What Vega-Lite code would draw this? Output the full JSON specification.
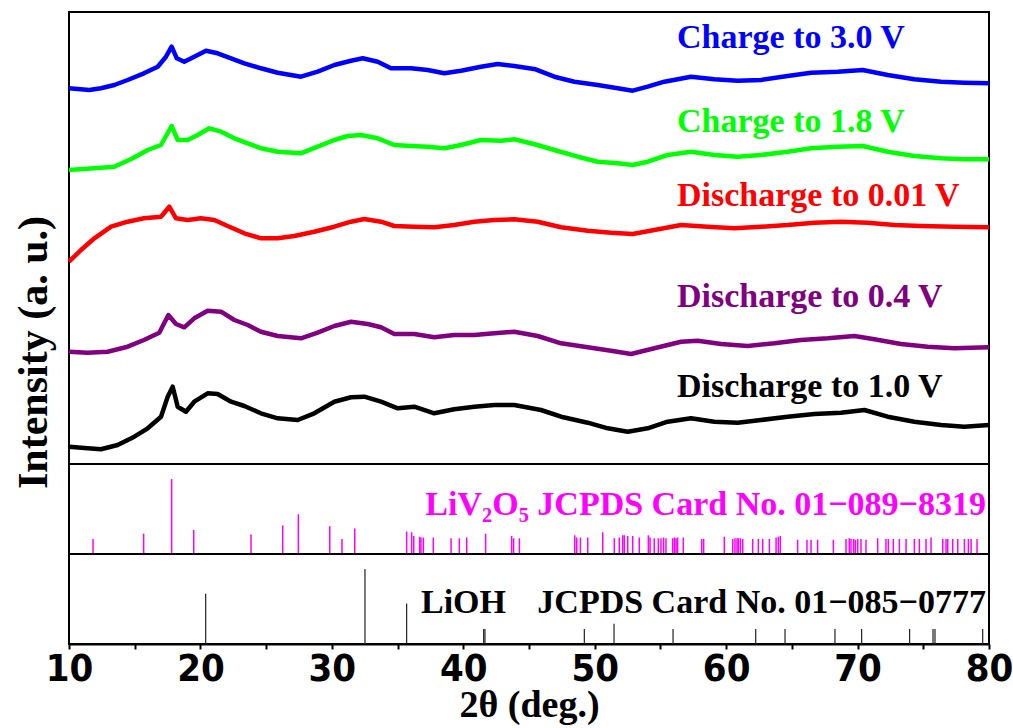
{
  "$schema": "https://vega.github.io/schema/vega-lite/v6.json",
  "autosize": {"type": "pad"},
  "padding": {"left": 11, "top": 11, "right": 24, "bottom": 5},
  "background": "white",
  "spacing": 0,
  "bounds": "flush",
  "config": {
    "view": {"stroke": "black", "strokeWidth": 2},
    "axis": {"grid": false},
    "font": "Liberation Serif"
  },
  "datasets": {
    "curves": [
      {"s": "3.0", "t": 10, "v": 375.7}, {"s": "3.0", "t": 11.55, "v": 374}, {"s": "3.0", "t": 12.43, "v": 375.7}, {"s": "3.0", "t": 13.45, "v": 379}, {"s": "3.0", "t": 14.46, "v": 384}, {"s": "3.0", "t": 15.7, "v": 390.7}, {"s": "3.0", "t": 16.75, "v": 397.3}, {"s": "3.0", "t": 17.38, "v": 407.3}, {"s": "3.0", "t": 17.81, "v": 417.3}, {"s": "3.0", "t": 18.2, "v": 405.7}, {"s": "3.0", "t": 18.77, "v": 402.3}, {"s": "3.0", "t": 19.53, "v": 407.3}, {"s": "3.0", "t": 20.42, "v": 413.3}, {"s": "3.0", "t": 21.31, "v": 410.7}, {"s": "3.0", "t": 22.33, "v": 405.7}, {"s": "3.0", "t": 23.34, "v": 400.7}, {"s": "3.0", "t": 24.6, "v": 395.7}, {"s": "3.0", "t": 25.88, "v": 391.3}, {"s": "3.0", "t": 27.65, "v": 387.3}, {"s": "3.0", "t": 28.92, "v": 392.3}, {"s": "3.0", "t": 30.19, "v": 399}, {"s": "3.0", "t": 31.46, "v": 403.3}, {"s": "3.0", "t": 32.35, "v": 405.7}, {"s": "3.0", "t": 33.49, "v": 402.3}, {"s": "3.0", "t": 34.5, "v": 395.7}, {"s": "3.0", "t": 36.02, "v": 395.7}, {"s": "3.0", "t": 37.29, "v": 394}, {"s": "3.0", "t": 38.56, "v": 390.7}, {"s": "3.0", "t": 39.83, "v": 393.3}, {"s": "3.0", "t": 41.35, "v": 397.3}, {"s": "3.0", "t": 42.62, "v": 400}, {"s": "3.0", "t": 43.88, "v": 398}, {"s": "3.0", "t": 45.5, "v": 394.7}, {"s": "3.0", "t": 46.93, "v": 387.3}, {"s": "3.0", "t": 48.45, "v": 382.3}, {"s": "3.0", "t": 50.23, "v": 379}, {"s": "3.0", "t": 51.75, "v": 375.7}, {"s": "3.0", "t": 52.89, "v": 373.3}, {"s": "3.0", "t": 54.03, "v": 377.3}, {"s": "3.0", "t": 55.3, "v": 382.3}, {"s": "3.0", "t": 57.33, "v": 387.3}, {"s": "3.0", "t": 59.1, "v": 384.7}, {"s": "3.0", "t": 60.88, "v": 383.3}, {"s": "3.0", "t": 62.65, "v": 384}, {"s": "3.0", "t": 64.68, "v": 388}, {"s": "3.0", "t": 66.46, "v": 391.3}, {"s": "3.0", "t": 68.49, "v": 392.3}, {"s": "3.0", "t": 70.39, "v": 394}, {"s": "3.0", "t": 72.29, "v": 389}, {"s": "3.0", "t": 74.32, "v": 384.7}, {"s": "3.0", "t": 76.35, "v": 382.3}, {"s": "3.0", "t": 78.12, "v": 381.3}, {"s": "3.0", "t": 80, "v": 380.7},

      {"s": "1.8", "t": 10, "v": 294}, {"s": "1.8", "t": 11.93, "v": 295.7}, {"s": "1.8", "t": 13.45, "v": 297.3}, {"s": "1.8", "t": 14.85, "v": 305.7}, {"s": "1.8", "t": 15.99, "v": 314}, {"s": "1.8", "t": 17, "v": 319}, {"s": "1.8", "t": 17.81, "v": 338}, {"s": "1.8", "t": 18.27, "v": 324}, {"s": "1.8", "t": 19.03, "v": 324}, {"s": "1.8", "t": 19.79, "v": 329}, {"s": "1.8", "t": 20.68, "v": 335.7}, {"s": "1.8", "t": 21.57, "v": 332.3}, {"s": "1.8", "t": 22.58, "v": 325.7}, {"s": "1.8", "t": 23.6, "v": 320.7}, {"s": "1.8", "t": 24.6, "v": 315.7}, {"s": "1.8", "t": 25.88, "v": 312.3}, {"s": "1.8", "t": 27.65, "v": 310.7}, {"s": "1.8", "t": 28.92, "v": 317.3}, {"s": "1.8", "t": 30.19, "v": 324}, {"s": "1.8", "t": 31.2, "v": 328}, {"s": "1.8", "t": 32.22, "v": 329}, {"s": "1.8", "t": 33.49, "v": 325.7}, {"s": "1.8", "t": 34.75, "v": 319}, {"s": "1.8", "t": 36.02, "v": 318}, {"s": "1.8", "t": 37.29, "v": 317.3}, {"s": "1.8", "t": 38.56, "v": 315.7}, {"s": "1.8", "t": 39.83, "v": 319}, {"s": "1.8", "t": 41.35, "v": 324}, {"s": "1.8", "t": 42.87, "v": 323.3}, {"s": "1.8", "t": 43.88, "v": 324.7}, {"s": "1.8", "t": 45.5, "v": 319.5}, {"s": "1.8", "t": 46.93, "v": 314}, {"s": "1.8", "t": 48.71, "v": 307.3}, {"s": "1.8", "t": 50.23, "v": 302.3}, {"s": "1.8", "t": 51.75, "v": 300.7}, {"s": "1.8", "t": 52.89, "v": 299}, {"s": "1.8", "t": 54.03, "v": 302.3}, {"s": "1.8", "t": 55.55, "v": 309}, {"s": "1.8", "t": 57.33, "v": 312.3}, {"s": "1.8", "t": 59.1, "v": 309}, {"s": "1.8", "t": 60.88, "v": 307.3}, {"s": "1.8", "t": 62.65, "v": 309}, {"s": "1.8", "t": 64.68, "v": 312.3}, {"s": "1.8", "t": 66.46, "v": 315.7}, {"s": "1.8", "t": 68.49, "v": 317.3}, {"s": "1.8", "t": 70.39, "v": 318}, {"s": "1.8", "t": 72.29, "v": 312.3}, {"s": "1.8", "t": 74.32, "v": 308}, {"s": "1.8", "t": 76.35, "v": 305.7}, {"s": "1.8", "t": 78.12, "v": 304.7}, {"s": "1.8", "t": 80, "v": 304.7},

      {"s": "0.01", "t": 10, "v": 202.3}, {"s": "0.01", "t": 10.91, "v": 214}, {"s": "0.01", "t": 11.93, "v": 225.7}, {"s": "0.01", "t": 13.2, "v": 237.3}, {"s": "0.01", "t": 14.46, "v": 242.3}, {"s": "0.01", "t": 15.7, "v": 245.7}, {"s": "0.01", "t": 17, "v": 247.3}, {"s": "0.01", "t": 17.63, "v": 257.3}, {"s": "0.01", "t": 18.14, "v": 245.7}, {"s": "0.01", "t": 19.03, "v": 244}, {"s": "0.01", "t": 20.04, "v": 245.7}, {"s": "0.01", "t": 21.06, "v": 244}, {"s": "0.01", "t": 22.07, "v": 238}, {"s": "0.01", "t": 23.34, "v": 230.7}, {"s": "0.01", "t": 24.6, "v": 225.7}, {"s": "0.01", "t": 25.88, "v": 225.7}, {"s": "0.01", "t": 27.14, "v": 228}, {"s": "0.01", "t": 28.66, "v": 232.3}, {"s": "0.01", "t": 30.19, "v": 237.3}, {"s": "0.01", "t": 31.46, "v": 242.3}, {"s": "0.01", "t": 32.47, "v": 245}, {"s": "0.01", "t": 33.74, "v": 242.3}, {"s": "0.01", "t": 34.75, "v": 238}, {"s": "0.01", "t": 36.27, "v": 237.3}, {"s": "0.01", "t": 37.79, "v": 236.7}, {"s": "0.01", "t": 39.31, "v": 239}, {"s": "0.01", "t": 40.84, "v": 242.3}, {"s": "0.01", "t": 42.36, "v": 244}, {"s": "0.01", "t": 43.88, "v": 244.7}, {"s": "0.01", "t": 45.66, "v": 242.3}, {"s": "0.01", "t": 47.44, "v": 236.7}, {"s": "0.01", "t": 49.47, "v": 233.3}, {"s": "0.01", "t": 51.24, "v": 231.3}, {"s": "0.01", "t": 52.89, "v": 230}, {"s": "0.01", "t": 54.54, "v": 234}, {"s": "0.01", "t": 56.57, "v": 239}, {"s": "0.01", "t": 58.6, "v": 237.3}, {"s": "0.01", "t": 60.62, "v": 235.7}, {"s": "0.01", "t": 62.65, "v": 237.3}, {"s": "0.01", "t": 64.68, "v": 239}, {"s": "0.01", "t": 66.71, "v": 241.3}, {"s": "0.01", "t": 68.74, "v": 242.3}, {"s": "0.01", "t": 70.77, "v": 241.3}, {"s": "0.01", "t": 72.8, "v": 239}, {"s": "0.01", "t": 74.83, "v": 238}, {"s": "0.01", "t": 77.36, "v": 237.3}, {"s": "0.01", "t": 80, "v": 236.7},

      {"s": "0.4", "t": 10, "v": 112.3}, {"s": "0.4", "t": 11.42, "v": 111.3}, {"s": "0.4", "t": 12.94, "v": 112.3}, {"s": "0.4", "t": 14.46, "v": 117.3}, {"s": "0.4", "t": 15.7, "v": 124}, {"s": "0.4", "t": 16.87, "v": 131.3}, {"s": "0.4", "t": 17.56, "v": 149}, {"s": "0.4", "t": 18.14, "v": 140}, {"s": "0.4", "t": 18.77, "v": 136.7}, {"s": "0.4", "t": 19.53, "v": 145.7}, {"s": "0.4", "t": 20.55, "v": 153.3}, {"s": "0.4", "t": 21.57, "v": 152.3}, {"s": "0.4", "t": 22.58, "v": 144}, {"s": "0.4", "t": 23.6, "v": 139}, {"s": "0.4", "t": 24.6, "v": 132.3}, {"s": "0.4", "t": 25.88, "v": 128}, {"s": "0.4", "t": 27.65, "v": 125.7}, {"s": "0.4", "t": 28.92, "v": 131.3}, {"s": "0.4", "t": 30.19, "v": 138}, {"s": "0.4", "t": 31.46, "v": 142.3}, {"s": "0.4", "t": 32.73, "v": 140}, {"s": "0.4", "t": 33.74, "v": 136.7}, {"s": "0.4", "t": 34.75, "v": 130}, {"s": "0.4", "t": 36.27, "v": 130}, {"s": "0.4", "t": 37.79, "v": 126.7}, {"s": "0.4", "t": 39.31, "v": 129}, {"s": "0.4", "t": 40.84, "v": 129}, {"s": "0.4", "t": 42.36, "v": 130.7}, {"s": "0.4", "t": 43.88, "v": 132.3}, {"s": "0.4", "t": 45.66, "v": 128}, {"s": "0.4", "t": 47.44, "v": 120.7}, {"s": "0.4", "t": 49.47, "v": 116.7}, {"s": "0.4", "t": 51.24, "v": 113.3}, {"s": "0.4", "t": 52.77, "v": 110}, {"s": "0.4", "t": 54.54, "v": 115.7}, {"s": "0.4", "t": 56.57, "v": 122.3}, {"s": "0.4", "t": 57.84, "v": 123.3}, {"s": "0.4", "t": 59.62, "v": 120}, {"s": "0.4", "t": 61.64, "v": 118}, {"s": "0.4", "t": 63.67, "v": 120.7}, {"s": "0.4", "t": 65.7, "v": 124}, {"s": "0.4", "t": 67.73, "v": 125.7}, {"s": "0.4", "t": 69.76, "v": 128}, {"s": "0.4", "t": 71.28, "v": 124.7}, {"s": "0.4", "t": 73.3, "v": 120}, {"s": "0.4", "t": 75.33, "v": 117.3}, {"s": "0.4", "t": 77.36, "v": 115.7}, {"s": "0.4", "t": 80, "v": 116.7},

      {"s": "1.0", "t": 10, "v": 17.3}, {"s": "1.0", "t": 11.42, "v": 15.7}, {"s": "1.0", "t": 12.43, "v": 14.7}, {"s": "1.0", "t": 13.7, "v": 19}, {"s": "1.0", "t": 14.97, "v": 27.3}, {"s": "1.0", "t": 15.99, "v": 35.7}, {"s": "1.0", "t": 17, "v": 47.3}, {"s": "1.0", "t": 17.51, "v": 67.3}, {"s": "1.0", "t": 17.89, "v": 77.3}, {"s": "1.0", "t": 18.27, "v": 57.3}, {"s": "1.0", "t": 18.9, "v": 52.3}, {"s": "1.0", "t": 19.53, "v": 62.3}, {"s": "1.0", "t": 20.55, "v": 70.7}, {"s": "1.0", "t": 21.31, "v": 70}, {"s": "1.0", "t": 22.33, "v": 62.3}, {"s": "1.0", "t": 23.34, "v": 58}, {"s": "1.0", "t": 24.6, "v": 50.7}, {"s": "1.0", "t": 25.88, "v": 45.7}, {"s": "1.0", "t": 27.4, "v": 44}, {"s": "1.0", "t": 28.66, "v": 50.7}, {"s": "1.0", "t": 30.19, "v": 62.3}, {"s": "1.0", "t": 31.46, "v": 66.7}, {"s": "1.0", "t": 32.47, "v": 67.3}, {"s": "1.0", "t": 33.74, "v": 62.3}, {"s": "1.0", "t": 35.01, "v": 55.7}, {"s": "1.0", "t": 36.27, "v": 57.3}, {"s": "1.0", "t": 37.79, "v": 50.7}, {"s": "1.0", "t": 39.31, "v": 54.7}, {"s": "1.0", "t": 40.84, "v": 57.3}, {"s": "1.0", "t": 42.36, "v": 59}, {"s": "1.0", "t": 43.88, "v": 59}, {"s": "1.0", "t": 45.91, "v": 54}, {"s": "1.0", "t": 47.44, "v": 47.3}, {"s": "1.0", "t": 49.47, "v": 41.3}, {"s": "1.0", "t": 50.99, "v": 35.7}, {"s": "1.0", "t": 52.51, "v": 32.3}, {"s": "1.0", "t": 54.03, "v": 35.7}, {"s": "1.0", "t": 55.55, "v": 42.3}, {"s": "1.0", "t": 57.33, "v": 45.7}, {"s": "1.0", "t": 59.1, "v": 42.3}, {"s": "1.0", "t": 60.88, "v": 41.3}, {"s": "1.0", "t": 62.65, "v": 44}, {"s": "1.0", "t": 64.68, "v": 47.3}, {"s": "1.0", "t": 66.71, "v": 50}, {"s": "1.0", "t": 68.74, "v": 51.3}, {"s": "1.0", "t": 70.52, "v": 54}, {"s": "1.0", "t": 72.29, "v": 47.3}, {"s": "1.0", "t": 74.32, "v": 42.3}, {"s": "1.0", "t": 76.35, "v": 39}, {"s": "1.0", "t": 78.12, "v": 37.3}, {"s": "1.0", "t": 80, "v": 39}
    ],
    "labels": [
      {"s": "3.0", "t": 56.26, "v": 426, "label": "Charge to 3.0 V"},
      {"s": "1.8", "t": 56.26, "v": 342, "label": "Charge to 1.8 V"},
      {"s": "0.01", "t": 56.26, "v": 268, "label": "Discharge to 0.01 V"},
      {"s": "0.4", "t": 56.26, "v": 167, "label": "Discharge to 0.4 V"},
      {"s": "1.0", "t": 56.26, "v": 77, "label": "Discharge to 1.0 V"}
    ],
    "liv": [
      {"t": 11.83, "i": 20}, {"t": 15.68, "i": 27}, {"t": 17.81, "i": 100}, {"t": 19.49, "i": 32}, {"t": 23.85, "i": 26}, {"t": 26.26, "i": 38}, {"t": 27.45, "i": 53}, {"t": 29.84, "i": 37}, {"t": 30.77, "i": 20}, {"t": 31.74, "i": 34},
      {"t": 35.69, "i": 30}, {"t": 36.07, "i": 29}, {"t": 36.23, "i": 24}, {"t": 36.68, "i": 23}, {"t": 36.78, "i": 22}, {"t": 36.96, "i": 22}, {"t": 37.72, "i": 22}, {"t": 39.07, "i": 21}, {"t": 39.7, "i": 21}, {"t": 40.26, "i": 22}, {"t": 41.7, "i": 27}, {"t": 43.68, "i": 24}, {"t": 43.83, "i": 21}, {"t": 44.27, "i": 21}, {"t": 48.48, "i": 25}, {"t": 48.63, "i": 22}, {"t": 48.91, "i": 22}, {"t": 49.47, "i": 22}, {"t": 50.61, "i": 29}, {"t": 51.49, "i": 21}, {"t": 51.87, "i": 22}, {"t": 52.13, "i": 25}, {"t": 52.25, "i": 25}, {"t": 52.51, "i": 24}, {"t": 52.89, "i": 24}, {"t": 53.39, "i": 22}, {"t": 54.08, "i": 25}, {"t": 54.21, "i": 22}, {"t": 54.53, "i": 21}, {"t": 54.84, "i": 21}, {"t": 55.04, "i": 21}, {"t": 55.24, "i": 22}, {"t": 55.42, "i": 21}, {"t": 55.93, "i": 21}, {"t": 56.06, "i": 22}, {"t": 56.19, "i": 21}, {"t": 56.31, "i": 22}, {"t": 56.74, "i": 22},
      {"t": 58.14, "i": 20}, {"t": 58.29, "i": 20}, {"t": 59.86, "i": 23}, {"t": 60.5, "i": 20}, {"t": 60.67, "i": 21}, {"t": 60.83, "i": 21}, {"t": 60.93, "i": 21}, {"t": 61.08, "i": 21}, {"t": 61.26, "i": 20}, {"t": 62.02, "i": 20}, {"t": 62.45, "i": 20}, {"t": 62.78, "i": 20}, {"t": 63.29, "i": 20}, {"t": 63.8, "i": 22}, {"t": 63.97, "i": 23}, {"t": 64.12, "i": 24}, {"t": 65.44, "i": 19}, {"t": 66.15, "i": 19}, {"t": 66.46, "i": 19}, {"t": 66.96, "i": 19}, {"t": 68.16, "i": 19}, {"t": 69.12, "i": 20}, {"t": 69.37, "i": 21}, {"t": 69.5, "i": 20}, {"t": 69.7, "i": 20}, {"t": 69.83, "i": 19}, {"t": 70.01, "i": 20}, {"t": 70.26, "i": 20}, {"t": 70.64, "i": 19}, {"t": 71.53, "i": 21}, {"t": 72.16, "i": 20}, {"t": 72.34, "i": 20}, {"t": 72.72, "i": 20}, {"t": 73.18, "i": 20}, {"t": 73.69, "i": 20}, {"t": 74.32, "i": 20}, {"t": 74.7, "i": 20}, {"t": 75.21, "i": 20}, {"t": 75.59, "i": 22}, {"t": 76.48, "i": 20}, {"t": 76.73, "i": 20}, {"t": 76.86, "i": 20}, {"t": 77.24, "i": 20}, {"t": 77.62, "i": 20}, {"t": 78.13, "i": 20}, {"t": 78.43, "i": 20}, {"t": 78.64, "i": 20}, {"t": 79.09, "i": 20}
    ],
    "lioh": [
      {"t": 20.4, "i": 67}, {"t": 32.52, "i": 100}, {"t": 35.69, "i": 54}, {"t": 41.55, "i": 20}, {"t": 41.65, "i": 20}, {"t": 49.21, "i": 20}, {"t": 51.47, "i": 27}, {"t": 55.96, "i": 20}, {"t": 62.25, "i": 20}, {"t": 64.48, "i": 20}, {"t": 68.28, "i": 20}, {"t": 70.31, "i": 20}, {"t": 73.96, "i": 20}, {"t": 75.74, "i": 20}, {"t": 75.89, "i": 20}, {"t": 79.52, "i": 20}
    ],
    "livLabel": [{"t": 79.77, "i": 65, "label": "LiV₂O₅ JCPDS Card No. 01−089−8319"}],
    "liohName": [{"t": 36.78, "i": 55, "label": "LiOH"}],
    "liohCard": [{"t": 79.77, "i": 55, "label": "JCPDS Card No. 01−085−0777"}]
  },
  "vconcat": [
    {
      "width": 920,
      "height": 452,
      "layer": [
        {
          "data": {"name": "curves"},
          "mark": {"type": "line", "strokeWidth": 4.5, "strokeJoin": "round"},
          "encoding": {
            "x": {"field": "t", "type": "quantitative", "scale": {"domain": [10, 80], "nice": false, "zero": false}, "axis": null},
            "y": {"field": "v", "type": "quantitative", "scale": {"domain": [0, 452], "nice": false},
              "axis": {"title": "Intensity (a. u.)", "labels": false, "ticks": false, "domain": false, "grid": false,
                "titleFont": "Liberation Serif", "titleFontSize": 42, "titleFontWeight": "bold", "titleColor": "black",
                "titleAngle": -90, "titleX": -36, "titleY": 340, "titleAlign": "center", "titleBaseline": "middle"}},
            "color": {"field": "s", "type": "nominal", "scale": {"domain": ["3.0", "1.8", "0.01", "0.4", "1.0"], "range": ["#0000FF", "#00FF00", "#FF0000", "#800080", "#000000"]}, "legend": null},
            "order": {"field": "t", "type": "quantitative"}
          }
        },
        {
          "data": {"name": "labels"},
          "mark": {"type": "text", "align": "left", "baseline": "middle", "fontSize": 34, "fontWeight": "bold", "font": "Liberation Serif"},
          "encoding": {
            "x": {"field": "t", "type": "quantitative"},
            "y": {"field": "v", "type": "quantitative"},
            "text": {"field": "label"},
            "color": {"field": "s", "type": "nominal", "legend": null}
          }
        }
      ]
    },
    {
      "width": 920,
      "height": 90,
      "layer": [
        {
          "data": {"name": "liv"},
          "mark": {"type": "rule", "color": "#FF00FF", "strokeWidth": 1.5},
          "encoding": {
            "x": {"field": "t", "type": "quantitative", "scale": {"domain": [10, 80], "nice": false, "zero": false}, "axis": null},
            "y": {"field": "i", "type": "quantitative", "scale": {"domain": [0, 120], "nice": false}, "axis": null},
            "y2": {"datum": 0}
          }
        },
        {
          "data": {"name": "livLabel"},
          "mark": {"type": "text", "align": "right", "baseline": "middle", "fontSize": 34, "fontWeight": "bold", "font": "Liberation Serif", "color": "#FF00FF"},
          "encoding": {
            "x": {"field": "t", "type": "quantitative"},
            "y": {"field": "i", "type": "quantitative"},
            "text": {"field": "label"}
          }
        }
      ]
    },
    {
      "width": 920,
      "height": 90,
      "layer": [
        {
          "data": {"name": "lioh"},
          "mark": {"type": "rule", "color": "#222222", "strokeWidth": 1.2},
          "encoding": {
            "x": {"field": "t", "type": "quantitative", "scale": {"domain": [10, 80], "nice": false, "zero": false},
              "axis": {"title": "2θ (deg.)", "values": [10, 15, 20, 25, 30, 35, 40, 45, 50, 55, 60, 65, 70, 75, 80],
                "labelExpr": "datum.value % 10 === 0 ? datum.label : ''",
                "tickSize": 5, "tickColor": "black", "tickWidth": 2, "domainColor": "black", "domainWidth": 2,
                "labelFont": "Liberation Sans Narrow, DejaVu Sans Condensed, Liberation Sans, sans-serif", "labelFontSize": 38, "labelFontWeight": "bold", "labelColor": "black", "labelPadding": 1,
                "labelOverlap": false, "labelFlush": false,
                "titleFont": "Liberation Serif", "titleFontSize": 38, "titleFontWeight": "bold", "titleColor": "black", "titlePadding": -2}},
            "y": {"field": "i", "type": "quantitative", "scale": {"domain": [0, 120], "nice": false}, "axis": null},
            "y2": {"datum": 0}
          }
        },
        {
          "data": {"name": "liohName"},
          "mark": {"type": "text", "align": "left", "baseline": "middle", "fontSize": 34, "fontWeight": "bold", "font": "Liberation Serif", "color": "black"},
          "encoding": {
            "x": {"field": "t", "type": "quantitative"},
            "y": {"field": "i", "type": "quantitative"},
            "text": {"field": "label"}
          }
        },
        {
          "data": {"name": "liohCard"},
          "mark": {"type": "text", "align": "right", "baseline": "middle", "fontSize": 34, "fontWeight": "bold", "font": "Liberation Serif", "color": "black"},
          "encoding": {
            "x": {"field": "t", "type": "quantitative"},
            "y": {"field": "i", "type": "quantitative"},
            "text": {"field": "label"}
          }
        }
      ]
    }
  ]
}
